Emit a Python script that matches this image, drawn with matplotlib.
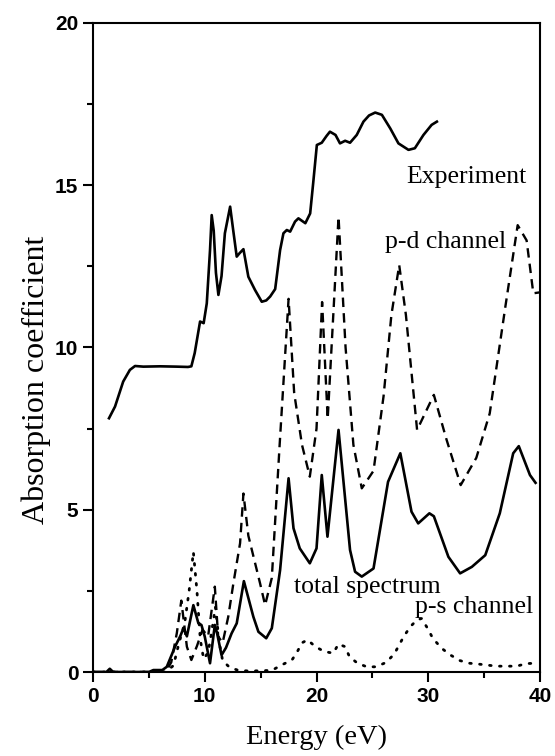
import matplotlib
matplotlib.use("Agg")
import matplotlib.pyplot as plt
from matplotlib.ticker import MultipleLocator

# measured absorption (upper solid curve)
exp_x = [1.43, 1.97, 2.7, 3.3, 3.76, 4.5, 6.0, 7.5, 8.5, 8.8, 9.1, 9.58, 9.9, 10.18,
         10.47, 10.62, 10.8, 11.0, 11.22, 11.5, 11.8, 12.27, 12.55, 12.86, 13.1, 13.46,
         13.9, 14.5, 15.1, 15.5, 15.85, 16.3, 16.74, 17.04, 17.34, 17.64, 18.08, 18.38,
         19.0, 19.43, 19.7, 20.03, 20.47, 20.9, 21.2, 21.7, 22.1, 22.56, 23.0, 23.6,
         24.2, 24.7, 25.25, 25.85, 26.6, 27.33, 28.23, 28.8, 29.57, 30.3, 30.77]
exp_y = [7.82, 8.18, 8.95, 9.31, 9.43, 9.41, 9.42, 9.41, 9.4, 9.42, 9.83, 10.8, 10.75, 11.36,
         13.0, 14.08, 13.6, 12.3, 11.62, 12.2, 13.52, 14.34, 13.6, 12.8, 12.9, 13.03,
         12.18, 11.77, 11.41, 11.45, 11.57, 11.8, 13.0, 13.52, 13.62, 13.57, 13.88, 13.98,
         13.83, 14.13, 15.06, 16.24, 16.31, 16.52, 16.65, 16.55, 16.29, 16.37, 16.31, 16.55,
         16.96, 17.15, 17.24, 17.17, 16.75, 16.29, 16.09, 16.14, 16.55, 16.86, 16.96]

# calculated total spectrum (lower solid curve)
tot_x = [0.0, 1.2, 1.5, 1.8, 5.0, 5.4, 6.2, 6.6, 7.34, 7.8, 8.1, 8.4, 8.98, 9.43, 9.7, 10.0,
         10.47, 10.9, 11.1, 11.5, 11.9, 12.4, 12.86, 13.5, 14.35, 14.8, 15.5, 16.0, 16.74,
         17.5, 17.94, 18.5, 19.4, 20.0, 20.47, 20.98, 21.97, 23.0, 23.45, 24.05, 25.1,
         26.4, 27.5, 28.5, 29.1, 30.1, 30.5, 31.8, 32.85, 33.9, 35.1, 36.4, 37.6, 38.1,
         39.1, 39.6]
tot_y = [0.0, 0.0, 0.1, 0.0, 0.0, 0.06, 0.06, 0.16, 0.78, 1.1, 1.35, 1.1, 2.06, 1.5, 1.45, 1.09,
         0.27, 1.45, 1.2, 0.52, 0.75, 1.19, 1.5, 2.8, 1.7, 1.24, 1.04, 1.35, 3.14,
         5.97, 4.43, 3.81, 3.35, 3.81, 6.07, 4.17, 7.46, 3.76, 3.09, 2.94, 3.19,
         5.86, 6.74, 4.94, 4.58, 4.89, 4.8, 3.55, 3.04, 3.24, 3.6, 4.89, 6.74, 6.96,
         6.07, 5.83]

# p-d channel (dashed)
pd_x = [0.0, 6.5, 7.0, 7.5, 7.9, 8.4, 8.8, 9.3, 9.8, 10.3, 10.9, 11.2, 11.6, 12.1, 12.56,
        13.16, 13.46, 13.9, 14.95, 15.4, 16.0, 16.7, 17.5, 18.0, 18.7, 19.4, 20.0, 20.5,
        21.0, 21.5, 21.97, 22.6, 23.3, 24.05, 25.1, 26.0, 26.7, 27.4, 28.0, 29.0, 30.5,
        31.6, 32.9, 34.3, 35.5, 36.9, 38.0, 38.8, 39.4, 40.0]
pd_y = [0.0, 0.0, 0.3, 1.2, 2.2, 0.78, 0.37, 0.8, 1.3, 1.1, 2.63, 1.09, 0.9, 1.7, 2.73,
        3.97, 5.5, 4.2, 2.73, 2.06, 2.9, 7.0, 11.5, 8.6, 7.0, 6.02, 7.5, 11.4,
        7.8, 11.0, 14.03, 10.0, 7.0, 5.66, 6.2, 8.5, 11.0, 12.54, 11.0, 7.46, 8.54,
        7.2, 5.76, 6.6, 7.97, 11.26, 13.77, 13.3, 11.67, 11.7]

# p-s channel (dotted)
ps_x = [0.0, 6.5, 7.2, 7.7, 8.2, 8.6, 8.98, 9.3, 9.6, 9.9, 10.3, 10.6, 10.95, 11.3, 11.6,
        12.2, 13.0, 14.05, 16.0, 16.9, 17.8, 18.24, 18.7, 19.2, 19.9, 20.7, 21.5, 21.96,
        22.56, 22.95, 23.67, 24.5, 25.3, 26.2, 26.95, 27.8, 28.4, 28.98, 29.4, 30.0, 30.4,
        31.2, 32.0, 32.85, 33.7, 34.6, 36.1, 37.9, 38.8, 39.6]
ps_y = [0.0, 0.0, 0.2, 0.9, 1.5, 2.5, 3.7, 2.5, 1.0, 0.4, 0.6, 1.2, 2.0, 0.9, 0.35,
        0.15, 0.05, 0.03, 0.05, 0.22, 0.37, 0.6, 0.9, 0.99, 0.78, 0.63, 0.58, 0.86,
        0.78, 0.47, 0.27, 0.16, 0.16, 0.29, 0.55, 1.09, 1.4, 1.6, 1.65, 1.31, 1.04,
        0.73, 0.52, 0.35, 0.27, 0.24, 0.18, 0.18, 0.26, 0.27]

serif = ['Liberation Serif', 'DejaVu Serif']
sans = ['Liberation Sans', 'DejaVu Sans']

fig = plt.figure(figsize=(5.55, 7.56), dpi=100)
ax = fig.add_axes([0.1676, 0.1111, 0.8054, 0.8585])

ax.plot(exp_x, exp_y, color='black', lw=1.9)
ax.plot(tot_x, tot_y, color='black', lw=1.9)
ax.plot(pd_x, pd_y, color='black', lw=1.7, dashes=(4, 2.6))
ax.plot(ps_x, ps_y, color='black', lw=2.0, dashes=(0.6, 3.0), dash_capstyle='round')

ax.set_xlim(0, 40)
ax.set_ylim(0, 20)
ax.xaxis.set_major_locator(MultipleLocator(10))
ax.xaxis.set_minor_locator(MultipleLocator(5))
ax.yaxis.set_major_locator(MultipleLocator(5))
ax.yaxis.set_minor_locator(MultipleLocator(2.5))
ax.tick_params(which='major', direction='out', length=7.5, width=1.5, pad=3,
               labelsize=15, top=False, right=False)
ax.tick_params(which='minor', direction='out', length=4, width=1.5,
               top=False, right=False)
for lab in ax.get_xticklabels() + ax.get_yticklabels():
    lab.set_family(sans)
    lab.set_fontweight('bold')
for sp in ax.spines.values():
    sp.set_linewidth(1.5)

ax.set_xlabel('Energy (eV)', family=serif, fontsize=20.5, labelpad=14)
ax.set_ylabel('Absorption coefficient', family=serif, fontsize=23)
ax.yaxis.set_label_coords(-0.095, 0.45)

ax.text(28.0, 15.07, 'Experiment', family=serif, fontsize=18.5)
ax.text(26.1, 13.07, 'p-d channel', family=serif, fontsize=18.5)
ax.text(18.0, 2.42, 'total spectrum', family=serif, fontsize=18.5)
ax.text(28.8, 1.81, 'p-s channel', family=serif, fontsize=18.5)

fig.savefig('out.png', dpi=100)
